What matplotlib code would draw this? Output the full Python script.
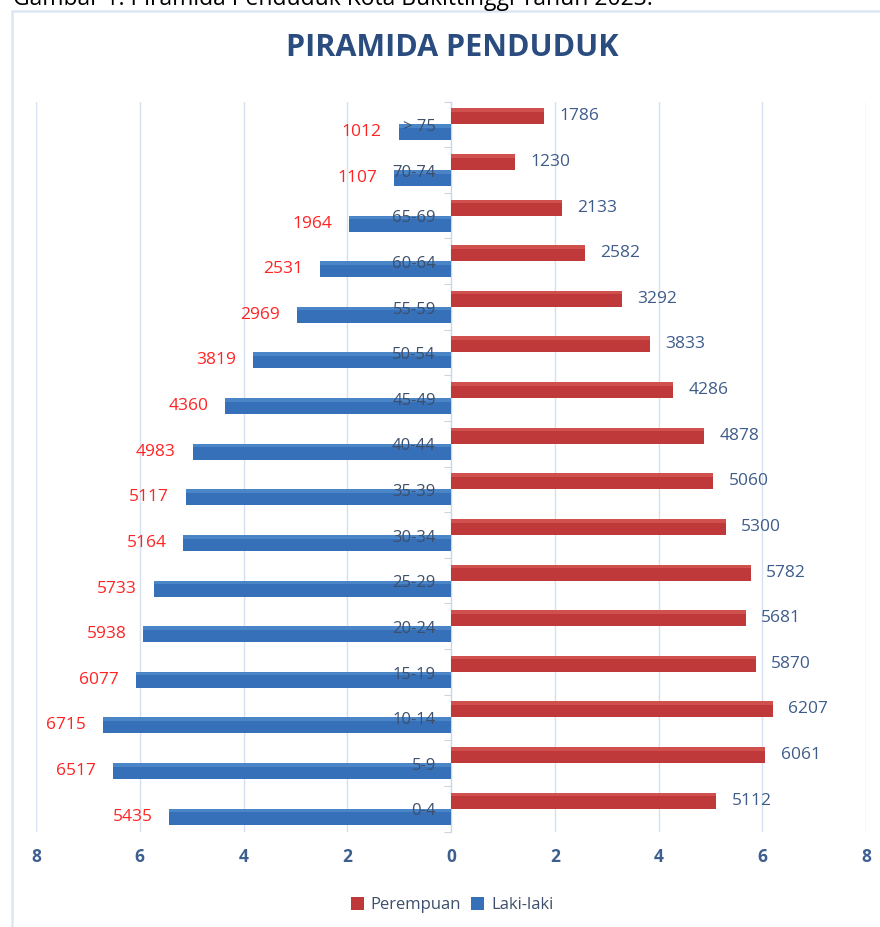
import matplotlib.pyplot as plt
from matplotlib.patches import Rectangle

ages = ["0-4", "5-9", "10-14", "15-19", "20-24", "25-29", "30-34", "35-39",
        "40-44", "45-49", "50-54", "55-59", "60-64", "65-69", "70-74", "> 75"]
perempuan = [5112, 6061, 6207, 5870, 5681, 5782, 5300, 5060,
             4878, 4286, 3833, 3292, 2582, 2133, 1230, 1786]
laki = [5435, 6517, 6715, 6077, 5938, 5733, 5164, 5117,
        4983, 4360, 3819, 2969, 2531, 1964, 1107, 1012]
xticks = [-8, -6, -4, -2, 0, 2, 4, 6, 8]

red = "#C0393A"
blue = "#3570B8"
font = "Open Sans"

fig = plt.figure(figsize=(8.8, 9.27), dpi=100)
W, H = 880, 927

# chart frame
fig.patches.append(Rectangle((12 / W, -0.01), 1.0, 1 - 11 / H + 0.01,
                             transform=fig.transFigure, fill=False,
                             edgecolor="#DCE6F2", lw=1.8))
fig.text(13 / W, 1 - 5 / H, "Gambar 1. Piramida Penduduk Kota Bukittinggi Tahun 2023.",
         fontsize=16.5, family=font, color="black", va="baseline", ha="left")
fig.text(452 / W, 1 - 48 / H, "PIRAMIDA PENDUDUK", fontsize=22, family=font,
         fontweight="bold", color="#2B4C7E", ha="center", va="center")

ax = fig.add_axes([36 / W, 1 - 831.5 / H, 830 / W, 730 / H])
n = len(ages)
y = list(range(n))
h = 0.35
pv = [v / 1000 for v in perempuan]
lv = [-v / 1000 for v in laki]

ax.barh([i + h / 2 for i in y], pv, height=h, color=red, zorder=3,
        label="Perempuan")
ax.barh([i - h / 2 for i in y], lv, height=h, color=blue, zorder=3,
        label="Laki-laki")

# lighter top edge for a slight 3D feel
ax.barh([i + h - 0.04 for i in y], pv, height=0.08, color="#D0504E", zorder=4, lw=0)
ax.barh([i - 0.04 for i in y], lv, height=0.08, color="#4A85C8", zorder=4, lw=0)

for i in y:
    ax.annotate(str(perempuan[i]), (pv[i], i + h / 2), xytext=(11, 0),
                textcoords="offset points", va="center", ha="left",
                fontsize=12.5, family=font, color="#3E5C8A", zorder=5)
    ax.annotate(str(laki[i]), (lv[i], i - h / 2), xytext=(-12, 0),
                textcoords="offset points", va="center", ha="right",
                fontsize=12.5, family=font, color="#FF2424", zorder=5)
    ax.annotate(ages[i], (0, i), xytext=(-11, -2),
                textcoords="offset points", va="center", ha="right",
                fontsize=12, family=font, color="#3D4F6B", zorder=6)

ax.set_xlim(-8, 8)
ax.set_ylim(-0.5, n - 0.5)
ax.set_xticks(xticks)
ax.set_xticklabels([str(abs(t)) for t in xticks], family=font, fontsize=12.5,
                   fontweight="bold", color="#3D5F8F")
ax.tick_params(axis="x", length=0, pad=12)
ax.set_yticks([i - 0.5 for i in range(n + 1)])
ax.set_yticklabels([])
ax.tick_params(axis="y", length=5, color="#C9D6E8", direction="out")
ax.grid(axis="x", color="#D5E1F0", lw=1, zorder=0)
for s in ["top", "right", "bottom"]:
    ax.spines[s].set_visible(False)
ax.spines["left"].set_position(("data", 0))
ax.spines["left"].set_color("#C9D6E8")
ax.spines["left"].set_zorder(2)

handles, labels = ax.get_legend_handles_labels()
fig.legend(handles[:2], labels[:2], loc="center", bbox_to_anchor=(452 / W, 1 - 905 / H),
           ncol=2, frameon=False, handlelength=0.8, handleheight=0.8,
           handletextpad=0.4, columnspacing=0.6,
           prop={"family": font, "size": 12}, labelcolor="#3D4F6B")

fig.savefig("out.png", dpi=100)
